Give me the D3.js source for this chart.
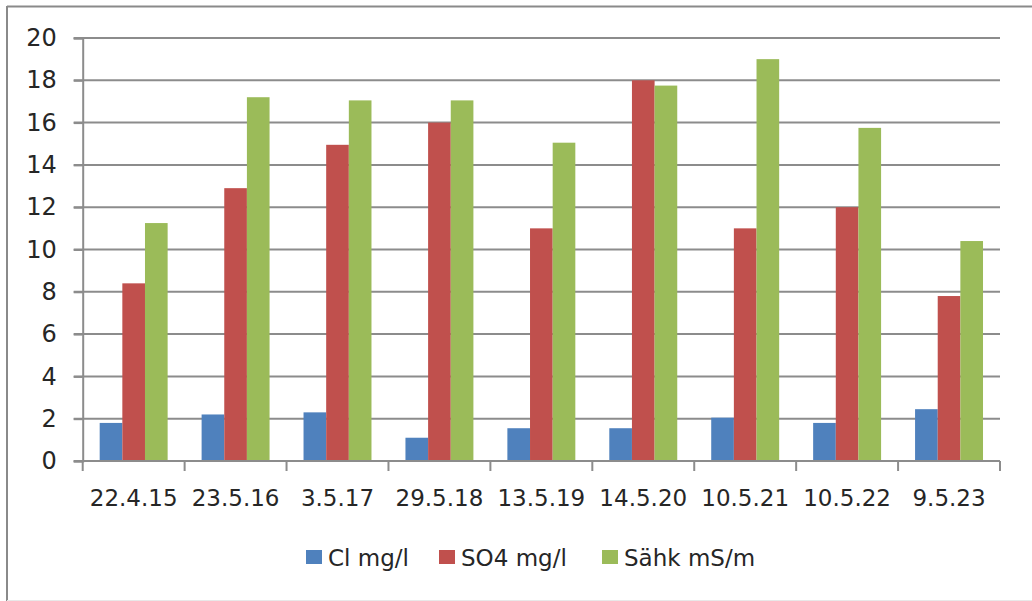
<!DOCTYPE html>
<html><head><meta charset="utf-8">
<script src="https://cdn.jsdelivr.net/npm/d3@7"></script>
<style>html,body{margin:0;padding:0;background:#fff;}svg{display:block;}</style>
</head><body>
<svg id="chart" width="1032" height="601"></svg>
<script>
const categories = ["22.4.15","23.5.16","3.5.17","29.5.18","13.5.19","14.5.20","10.5.21","10.5.22","9.5.23"];
const seriesNames = ["Cl mg/l","SO4 mg/l","Sähk mS/m"];
const clValues = [1.8, 2.2, 2.3, 1.1, 1.55, 1.55, 2.05, 1.8, 2.45];
const so4Values = [8.4, 12.9, 14.95, 16.0, 11.0, 18.0, 11.0, 12.0, 7.8];
const sahkValues = [11.25, 17.2, 17.05, 17.05, 15.05, 17.75, 19.0, 15.75, 10.4];
const yTicks = [0,2,4,6,8,10,12,14,16,18,20];
const colors = ["#4f81bd","#c0504d","#9bbb59"];

(function(){
const seriesValues = [clValues, so4Values, sahkValues];
const svg = d3.select("#chart");
const font = "DejaVu Sans, sans-serif";
const textColor = "#262626";

// outer frame
svg.append("line").attr("x1",7).attr("x2",1032).attr("y1",6.5).attr("y2",6.5).attr("stroke","#8a8a8a").attr("stroke-width",2);
svg.append("line").attr("x1",7).attr("x2",7).attr("y1",6).attr("y2",601).attr("stroke","#8a8a8a").attr("stroke-width",2);
svg.append("line").attr("x1",7).attr("x2",1032).attr("y1",600.5).attr("y2",600.5).attr("stroke","#e8e8e8").attr("stroke-width",1);

const pLeft = 82.7, pRight = 1000, pTop = 38, pBottom = 461;
const x = d3.scaleBand().domain(categories).range([pLeft, pRight]).paddingInner(0).paddingOuter(0);
const y = d3.scaleLinear().domain([0, 20]).range([pBottom, pTop]);
const groupW = x.bandwidth() / 1.5;
const xs = d3.scaleBand().domain(d3.range(seriesNames.length)).range([0, groupW]).padding(0);

// gridlines
svg.append("g").selectAll("line").data(yTicks.filter(d => d > 0)).join("line")
  .attr("x1", pLeft - 9).attr("x2", pRight)
  .attr("y1", d => y(d)).attr("y2", d => y(d))
  .attr("stroke", "#8c8c8c").attr("stroke-width", 2);

// bars
seriesValues.forEach((vals, si) => {
  svg.append("g").selectAll("rect").data(vals).join("rect")
    .attr("x", (d, i) => x(categories[i]) + (x.bandwidth() - groupW) / 2 + xs(si))
    .attr("width", xs.bandwidth())
    .attr("y", d => y(d))
    .attr("height", d => y(0) - y(d))
    .attr("fill", colors[si]);
});

// y axis
const yAxis = d3.axisLeft(y).tickValues(yTicks).tickSize(9).tickPadding(17).tickFormat(d3.format("d"));
const gy = svg.append("g").attr("transform", `translate(${pLeft},0)`).call(yAxis);
gy.select(".domain").attr("stroke", "#8c8c8c").attr("stroke-width", 2);
gy.selectAll(".tick line").attr("stroke", "#8c8c8c").attr("stroke-width", 2);
gy.selectAll(".tick text").attr("font-family", font).attr("font-size", 24).attr("fill", textColor);

// x axis
const gx = svg.append("g").attr("transform", `translate(0,${pBottom})`);
gx.append("line").attr("x1", pLeft - 9).attr("x2", pRight).attr("y1", 0).attr("y2", 0).attr("stroke", "#8c8c8c").attr("stroke-width", 2);
const bounds = categories.map(c => x(c)).concat([pRight]);
gx.selectAll("line.tk").data(bounds).join("line").attr("class","tk")
  .attr("x1", d => d).attr("x2", d => d).attr("y1", 0).attr("y2", 10)
  .attr("stroke", "#8c8c8c").attr("stroke-width", 2);
gx.selectAll("text").data(categories).join("text")
  .attr("x", d => x(d) + x.bandwidth() / 2).attr("y", 45)
  .attr("text-anchor", "middle").attr("font-family", font).attr("font-size", 23).attr("fill", textColor)
  .text(d => d);

// legend
const legendX = [306, 439, 602];
const lg = svg.append("g");
seriesNames.forEach((n, i) => {
  lg.append("rect").attr("x", legendX[i]).attr("y", 550).attr("width", 16).attr("height", 14).attr("fill", colors[i]);
  lg.append("text").attr("x", legendX[i] + 22).attr("y", 566).attr("font-family", font).attr("font-size", 23).attr("fill", textColor).text(n);
});
})();
</script>
</body></html>
